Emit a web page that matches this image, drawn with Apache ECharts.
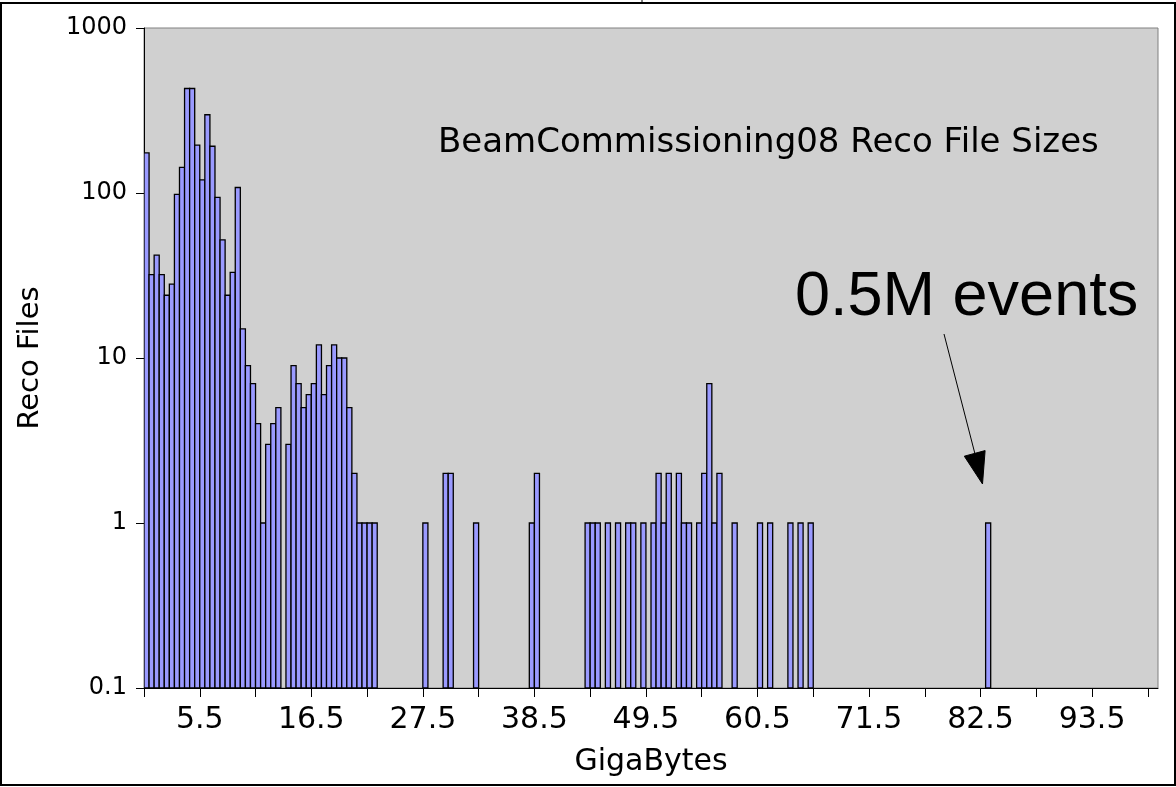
<!DOCTYPE html>
<html><head><meta charset="utf-8">
<script src="https://cdn.jsdelivr.net/npm/echarts@6/dist/echarts.min.js"></script>
<style>html,body{margin:0;padding:0;background:#fff}#c{width:1176px;height:787px}</style>
</head><body><div id="c"></div>
<script>
// Histogram bins (GB), width 0.5 GB; only non-empty bins are listed
const binWidth = 0.5;
const binStarts = [
  0, 0.5, 1, 1.5, 2, 2.5, 3, 3.5, 4, 4.5,
  5, 5.5, 6, 6.5, 7, 7.5, 8, 8.5, 9, 9.5,
  10, 10.5, 11, 11.5, 12, 12.5, 13, 14, 14.5,
  15, 15.5, 16, 16.5, 17, 17.5, 18, 18.5, 19, 19.5,
  20, 20.5, 21, 21.5, 22, 22.5,
  27.5, 29.5, 30, 32.5, 38, 38.5,
  43.5, 44, 44.5, 45.5, 46.5, 47.5, 48, 49, 50, 50.5, 51, 51.5,
  52.5, 53, 53.5, 54.5, 55, 55.5, 56, 56.5, 58,
  60.5, 61.5, 63.5, 64.5, 65.5,
  83
];
const fileCounts = [
  175, 32, 42, 32, 24, 28, 98, 143, 430, 430,
  195, 120, 298, 192, 94, 52, 24, 33, 108, 15,
  9, 7, 4, 1, 3, 4, 5, 3, 9,
  7, 5, 6, 7, 12, 6, 9, 12, 10, 10,
  5, 2, 1, 1, 1, 1,
  1, 2, 2, 1, 1, 2,
  1, 1, 1, 1, 1, 1, 1, 1, 1, 2, 1, 2,
  2, 1, 1, 1, 2, 7, 1, 2, 1,
  1, 1, 1, 1, 1,
  1
];
const xTickValues = [0, 5.5, 11, 16.5, 22, 27.5, 33, 38.5, 44, 49.5, 55, 60.5, 66, 71.5, 77, 82.5, 88, 93.5, 99];
const xTickLabels = [5.5, 16.5, 27.5, 38.5, 49.5, 60.5, 71.5, 82.5, 93.5];
const yTickLabels = ['0.1', '1', '10', '100', '1000'];
const yMin = 0.1, yMax = 1000;

const data = binStarts.map((b, i) => [b, fileCounts[i]]);

const chart = echarts.init(document.getElementById('c'), null, {renderer: 'canvas'});
const font = 'DejaVu Sans';
chart.setOption({
  animation: false,
  backgroundColor: '#ffffff',
  grid: {left: 144, right: 18, top: 28, bottom: 99, show: true,
         backgroundColor: '#d0d0d0', borderColor: '#808080', borderWidth: 1},
  xAxis: {
    type: 'value', min: 0, max: 100,
    name: 'GigaBytes', nameLocation: 'middle', nameGap: 59,
    nameTextStyle: {fontFamily: font, fontSize: 30, color: '#000'},
    axisLine: {show: true, lineStyle: {color: '#000', width: 1}},
    axisTick: {show: true, length: 9, customValues: xTickValues, lineStyle: {color: '#000'}},
    axisLabel: {customValues: xTickLabels, fontFamily: font, fontSize: 30, color: '#000', margin: 17,
                formatter: v => String(v)},
    splitLine: {show: false}
  },
  yAxis: {
    type: 'log', logBase: 10, min: yMin, max: yMax,
    name: 'Reco Files', nameLocation: 'middle', nameGap: 99,
    nameTextStyle: {fontFamily: font, fontSize: 29, color: '#000'},
    axisLine: {show: true, lineStyle: {color: '#000', width: 1}},
    axisTick: {show: true, length: 8, lineStyle: {color: '#000'}},
    axisLabel: {fontFamily: font, fontSize: 24, color: '#000', margin: 17,
                formatter: v => yTickLabels[Math.round(Math.log10(v)) + 1]},
    minorTick: {show: false},
    splitLine: {show: false}
  },
  series: [{
    type: 'custom',
    clip: true,
    data: data,
    encode: {x: 0, y: 1},
    renderItem: function (params, api) {
      const x0 = api.value(0);
      const v = api.value(1);
      const pTop = api.coord([x0, v]);
      const pBot = api.coord([x0 + binWidth, yMin]);
      return {
        type: 'rect',
        shape: {x: pTop[0], y: pTop[1], width: pBot[0] - pTop[0], height: pBot[1] - pTop[1]},
        style: {fill: '#9a9aff', stroke: '#000', lineWidth: 1.3}
      };
    }
  }],
  graphic: [
    {type: 'rect', shape: {x: 1, y: 3, width: 1174, height: 782},
     style: {fill: 'none', stroke: '#000', lineWidth: 2}, silent: true, z: 100},
    {type: 'line', shape: {x1: 642, y1: 0, x2: 642, y2: 3}, style: {stroke: '#000', lineWidth: 1}},
    {type: 'text', x: 438, y: 143, z: 50,
     style: {text: 'BeamCommissioning08 Reco File Sizes', font: '34px "DejaVu Sans"', fill: '#000',
             align: 'left', verticalAlign: 'middle'}},
    {type: 'text', x: 795, y: 298, z: 50,
     style: {text: '0.5M events', font: '63px "Liberation Sans"', fill: '#000',
             align: 'left', verticalAlign: 'middle'}},
    {type: 'line', z: 50, shape: {x1: 944, y1: 334, x2: 975, y2: 454},
     style: {stroke: '#000', lineWidth: 1}},
    {type: 'polygon', z: 50, shape: {points: [[964.3, 456.2], [985.1, 450.6], [982.5, 484]]},
     style: {fill: '#000', stroke: '#000', lineWidth: 1}}
  ]
});
</script>
</body></html>
